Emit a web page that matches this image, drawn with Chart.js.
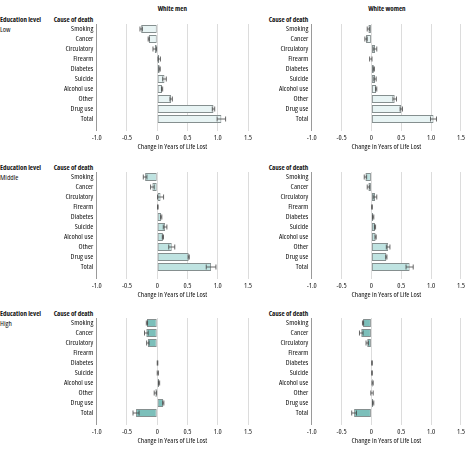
<!DOCTYPE html>
<html><head><meta charset="utf-8">
<script src="https://cdn.jsdelivr.net/npm/chart.js@4"></script>
<style>
body{margin:0;width:467px;height:450px;background:#fff;position:relative;overflow:hidden;font-family:"Open Sans",sans-serif;font-stretch:75%;}
.t{position:absolute;font-size:7px;line-height:8px;color:#111;white-space:nowrap;font-stretch:75%;}
.b{font-weight:bold;}
.r{font-size:7.5px;}
canvas{position:absolute;}
</style></head><body>
<script>
// make canvas text use the condensed width of the installed variable font
(function(){
  const proto = CanvasRenderingContext2D.prototype;
  const desc = Object.getOwnPropertyDescriptor(proto,'font');
  Object.defineProperty(proto,'font',{configurable:true,
    get(){return desc.get.call(this);},
    set(v){desc.set.call(this,v); try{this.fontStretch='condensed';}catch(e){}}});
})();

const causes = ['Smoking','Cancer','Circulatory','Firearm','Diabetes','Suicide','Alcohol use','Other','Drug use','Total'];
const xTicks = [-1.0,-0.5,0,0.5,1.0,1.5];
const groups = ['White men','White women'];
const levels = ['Low','Middle','High'];

const menLow      = [-0.265,-0.14,-0.04,0.033,0.04,0.12,0.08,0.23,0.93,1.06];
const menLowErr   = [0.02,0.01,0.03,0.02,0.01,0.03,0.01,0.02,0.02,0.07];
const womenLow    = [-0.05,-0.09,0.06,-0.01,0.04,0.06,0.08,0.39,0.50,1.04];
const womenLowErr = [0.02,0.02,0.03,0.02,0.01,0.02,0.01,0.03,0.02,0.05];
const menMid      = [-0.20,-0.08,0.055,0.01,0.066,0.13,0.094,0.24,0.52,0.89];
const menMidErr   = [0.03,0.03,0.05,0.005,0.01,0.03,0.01,0.05,0.01,0.08];
const womenMid    = [-0.10,-0.05,0.06,0.01,0.03,0.06,0.07,0.28,0.25,0.64];
const womenMidErr = [0.02,0.02,0.03,0.005,0.01,0.01,0.01,0.03,0.01,0.06];
const menHigh     = [-0.17,-0.18,-0.155,null,0.005,0.01,0.03,-0.03,0.10,-0.35];
const menHighErr  = [0.01,0.03,0.02,0,0.005,0.01,0.01,0.02,0.01,0.05];
const womenHigh   = [-0.14,-0.17,-0.07,null,0.01,0.01,0.02,0.01,0.03,-0.29];
const womenHighErr= [0.01,0.03,0.02,0,0.005,0.005,0.01,0.02,0.01,0.04];

const F = '"Open Sans",sans-serif';
const fills = ['#e8f4f4','#bfe3e1','#7cbfba'];
const rowTops = [14,162,308];

function addText(txt, css, cls){
  const d=document.createElement('div'); d.className='t '+cls; d.textContent=txt;
  Object.assign(d.style, css); document.body.appendChild(d);
}
addText(groups[0], {left:'172.3px', top:'5px', transform:'translateX(-50%)'}, 'b');
addText(groups[1], {left:'386.9px', top:'5px', transform:'translateX(-50%)'}, 'b');
levels.forEach((lv,r)=>{
  const y = rowTops[r]+10;
  addText('Education level', {left:'0px', top:(y-8)+'px'}, 'b');
  addText(lv, {left:'0px', top:(y+1)+'px'}, 'r');
  addText('Cause of death', {right:(467-93.3)+'px', top:(y-8)+'px'}, 'b');
  addText('Cause of death', {right:(467-308.3)+'px', top:(y-8)+'px'}, 'b');
});

const errPlugin = {id:'err', afterDatasetsDraw(chart){
  const ctx=chart.ctx, xs=chart.scales.x, ds=chart.data.datasets[0], meta=chart.getDatasetMeta(0);
  ctx.save(); ctx.strokeStyle='#444'; ctx.lineWidth=0.8;
  ds.data.forEach((v,i)=>{
    const e=ds.errs[i]; if(v==null||!e) return;
    const y=meta.data[i].y, x1=xs.getPixelForValue(v-e), x2=xs.getPixelForValue(v+e);
    ctx.beginPath();
    ctx.moveTo(x1,y); ctx.lineTo(x2,y);
    ctx.moveTo(x1,y-2.5); ctx.lineTo(x1,y+2.5);
    ctx.moveTo(x2,y-2.5); ctx.lineTo(x2,y+2.5);
    ctx.stroke();
  });
  ctx.restore();
}};

function makeChart(left, width, padRight, top, vals, errs, fill){
  const c=document.createElement('canvas'); c.width=width; c.height=137;
  c.style.left=left+'px'; c.style.top=top+'px'; document.body.appendChild(c);
  new Chart(c, {
    type:'bar',
    data:{labels:causes, datasets:[{data:vals, errs:errs, backgroundColor:fill, borderColor:'#858f8f', borderWidth:1, borderSkipped:false, barPercentage:0.78, categoryPercentage:1.0}]},
    options:{
      indexAxis:'y', responsive:false, animation:false, devicePixelRatio:1,
      layout:{padding:{top:10,right:padRight,left:0,bottom:0}},
      plugins:{legend:{display:false}, tooltip:{enabled:false}},
      scales:{
        x:{min:-1, max:1.5,
           afterBuildTicks:s=>{s.ticks=xTicks.map(v=>({value:v}));},
           ticks:{font:{size:7.5,family:F}, color:'#222', padding:2, maxRotation:0, autoSkip:false,
                  callback:v=> v===0?'0':Number(v).toFixed(1)},
           grid:{color:ctx=>(ctx.tick&&ctx.tick.value===-1)?'#9a9a9a':'#dcdcdc', lineWidth:1, drawTicks:true, tickLength:7},
           border:{display:false},
           title:{display:true, text:'Change in Years of Life Lost', font:{size:7.5,family:F}, color:'#111', padding:{top:0,bottom:0}},
           afterFit:s=>{s.height=27;}
        },
        y:{ticks:{font:{size:7.5,family:F}, color:'#111', padding:3.4, autoSkip:false},
           grid:{display:false, drawTicks:false}, border:{display:false},
           afterFit:s=>{s.width=96.7;}
        }
      }
    },
    plugins:[errPlugin]
  });
}
const menData=[[menLow,menLowErr],[menMid,menMidErr],[menHigh,menHighErr]];
const womenData=[[womenLow,womenLowErr],[womenMid,womenMidErr],[womenHigh,womenHighErr]];
for(let r=0;r<3;r++){
  makeChart(0,255,7,rowTops[r],menData[r][0],menData[r][1],fills[r]);
  makeChart(215,252,5,rowTops[r],womenData[r][0],womenData[r][1],fills[r]);
}
</script>
</body></html>
